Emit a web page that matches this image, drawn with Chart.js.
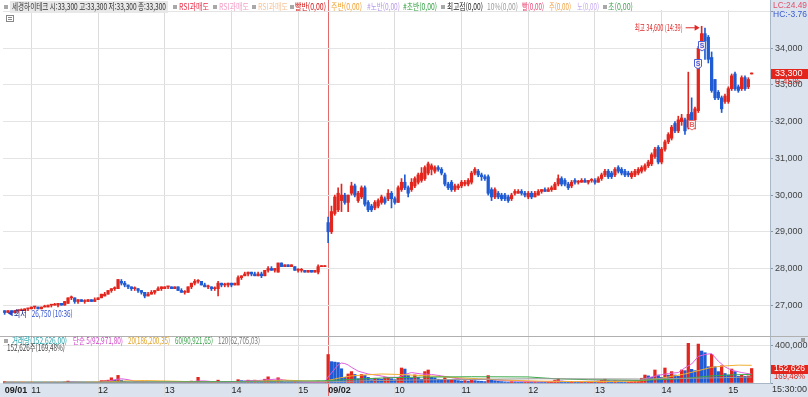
<!DOCTYPE html>
<html lang="ko">
<head>
<meta charset="utf-8">
<title>세경하이테크 3분봉</title>
<script src="https://cdn.jsdelivr.net/npm/chart.js@4.4.1/dist/chart.umd.min.js"></script>
<style>
  html, body { margin: 0; padding: 0; background: #fff; }
  #wrap { width: 808px; height: 397px; }
</style>
</head>
<body>
<div id="wrap"><canvas id="stockChart" width="808" height="397"></canvas></div>
<script>
// sessions (3-minute candles, 15:30 closing auction candle at the end of each day)
const sessionDates = ['09/01', '09/02'];
const sessionStart = ['10:36', '09:00'];
const sessionLastBar = ['15:21', '15:18'];
const blankSlots = 5;

const day1Open = [
  26850,26800,26850,26800,26850,26850,26850,26900,26900,26950,
  26950,26900,26950,26950,27000,27000,27000,27050,27000,27050,
  27200,27200,27100,27150,27100,27100,27150,27100,27150,27200,
  27250,27300,27400,27450,27450,27650,27600,27550,27500,27450,
  27450,27400,27350,27250,27300,27350,27400,27450,27450,27500,
  27500,27450,27500,27400,27350,27350,27500,27600,27650,27650,
  27550,27500,27500,27450,27450,27600,27550,27550,27600,27550,
  27550,27750,27800,27850,27900,27850,27800,27850,27800,27950,
  28000,27950,27900,28150,28050,28100,28050,28050,27950,27950,
  27950,27900,27950,27900,27900,28050,28050
];
const day1High = [
  26850,26850,26850,26850,26850,26900,26900,26900,26950,26950,
  26950,26950,27000,27000,27000,27050,27050,27050,27100,27200,
  27250,27200,27150,27150,27150,27150,27150,27200,27200,27300,
  27350,27400,27450,27500,27700,27700,27650,27550,27500,27500,
  27450,27400,27350,27350,27400,27400,27500,27500,27500,27500,
  27500,27500,27500,27450,27400,27500,27600,27700,27700,27650,
  27600,27550,27500,27500,27650,27600,27600,27600,27600,27600,
  27800,27800,27900,27900,27900,27900,27900,27900,27950,28050,
  28050,28000,28150,28150,28100,28100,28100,28050,28000,28000,
  27950,27950,27950,27950,28100,28050,28050
];
const day1Low = [
  26750,26800,26800,26800,26800,26850,26850,26850,26900,26900,
  26900,26900,26950,26950,26950,27000,26950,27000,27000,27050,
  27150,27050,27050,27100,27050,27100,27100,27100,27150,27200,
  27250,27300,27350,27400,27450,27550,27500,27450,27400,27400,
  27350,27300,27200,27250,27300,27300,27400,27400,27450,27450,
  27450,27450,27400,27350,27300,27350,27450,27550,27600,27550,
  27500,27450,27400,27400,27250,27500,27500,27500,27500,27550,
  27550,27700,27800,27800,27800,27800,27800,27750,27800,27900,
  27950,27900,27900,28050,28050,28050,28050,27950,27900,27900,
  27900,27900,27900,27900,27850,28050,28050
];
const day1Close = [
  26800,26850,26800,26850,26850,26850,26900,26900,26950,26950,
  26900,26950,26950,27000,27000,27000,27050,27000,27100,27200,
  27200,27100,27150,27100,27100,27150,27100,27150,27200,27300,
  27300,27400,27450,27450,27700,27600,27550,27500,27450,27450,
  27400,27350,27250,27300,27350,27400,27450,27500,27500,27500,
  27450,27500,27400,27350,27350,27500,27600,27650,27650,27550,
  27500,27500,27450,27450,27600,27550,27550,27600,27550,27600,
  27750,27800,27850,27900,27850,27800,27850,27800,27950,28000,
  27950,28000,28150,28050,28100,28050,28100,27950,27950,27950,
  27900,27950,27900,27950,28050,28050,28050
];
const day1Volume = [
  15000,5000,3000,4000,2000,3000,5000,3000,6000,4000,
  3000,2000,4000,3000,5000,3000,4000,3000,12000,20000,
  8000,6000,5000,4000,3000,4000,3000,5000,6000,25000,
  25000,30000,55000,30000,80000,30000,15000,12000,10000,8000,
  6000,8000,10000,7000,6000,5000,8000,6000,4000,3000,
  5000,3000,5000,4000,6000,10000,20000,15000,60000,15000,
  8000,5000,6000,10000,30000,8000,5000,4000,3000,5000,
  35000,25000,20000,30000,25000,30000,20000,15000,40000,65000,
  25000,20000,55000,20000,10000,8000,6000,10000,8000,6000,
  5000,4000,6000,5000,20000,3000,5000
];

const day2Open = [
  29250,29000,29500,29600,29850,30000,29800,30050,30250,29850,
  29950,30200,29800,29700,29650,29700,29800,29900,29900,30050,
  29900,29800,30150,30350,30200,30150,30250,30350,30400,30450,
  30600,30700,30650,30750,30700,30550,30300,30350,30150,30200,
  30250,30300,30300,30350,30600,30650,30550,30500,30500,30150,
  29950,30050,30000,30000,29950,29900,30050,30050,30100,30050,
  29950,30050,29950,30000,30100,30150,30100,30150,30150,30300,
  30450,30400,30300,30250,30400,30350,30350,30400,30350,30400,
  30400,30350,30450,30550,30650,30600,30550,30750,30700,30650,
  30600,30500,30550,30600,30650,30700,30800,30850,31050,31300,
  30900,31250,31450,31550,31950,31750,32000,32050,31850,32250,
  32050,32300,34000,34400,34300,33750,33150,32800,32650,32550,
  32550,32900,33300,32950,32900,33200,32950,33300
];
const day2High = [
  29400,29700,30000,30200,30300,30050,30000,30350,30300,30100,
  30250,30250,29850,29750,29850,29900,30000,29950,30150,30100,
  29950,30250,30450,30550,30250,30450,30500,30600,30750,30800,
  30900,30850,30800,30800,30750,30600,30350,30400,30300,30300,
  30400,30400,30450,30650,30750,30700,30600,30550,30550,30200,
  30200,30100,30050,30050,30000,30050,30150,30150,30150,30100,
  30100,30100,30100,30150,30150,30200,30200,30250,30350,30550,
  30500,30450,30350,30400,30450,30400,30450,30450,30400,30450,
  30450,30500,30600,30700,30700,30650,30750,30800,30750,30700,
  30650,30650,30700,30750,30800,30850,30950,31150,31300,31350,
  31300,31500,31700,31900,32000,32150,32200,32100,33350,32650,
  32400,34050,34600,34550,34350,33900,33150,32850,32700,32750,
  32950,33300,33350,33000,33250,33250,33200,33300
];
const day2Low = [
  28700,28950,29450,29550,29550,29750,29550,30000,29950,29800,
  29900,29700,29550,29550,29600,29650,29750,29750,29850,29650,
  29750,29800,30100,30150,29950,30100,30200,30300,30350,30400,
  30550,30550,30600,30650,30550,30250,30150,30100,30100,30150,
  30200,30250,30250,30300,30550,30500,30400,30400,30000,29850,
  29900,29900,29850,29850,29800,29850,30000,30050,30000,29950,
  29900,29900,29950,30000,30050,30100,30100,30100,30150,30250,
  30250,30250,30150,30200,30300,30300,30350,30350,30300,30350,
  30300,30350,30400,30500,30450,30450,30500,30600,30550,30500,
  30500,30450,30500,30550,30600,30650,30750,30800,31000,30850,
  30850,31200,31400,31500,31700,31700,31900,31650,31800,32000,
  31800,32250,33950,33700,33600,32800,32600,32600,32250,32500,
  32500,32850,32850,32800,32850,32850,32900,33300
];
const day2Close = [
  29000,29550,29950,30050,30000,29800,30000,30250,30000,30050,
  30200,29750,29600,29600,29800,29850,29950,29800,30050,29900,
  29800,30200,30350,30200,30050,30350,30450,30550,30600,30750,
  30850,30800,30750,30700,30600,30300,30200,30150,30250,30250,
  30350,30350,30400,30600,30700,30550,30500,30450,30050,29950,
  30150,29950,29900,29900,29850,30000,30100,30100,30050,30000,
  30050,29950,30050,30100,30150,30100,30150,30200,30300,30450,
  30300,30300,30200,30350,30350,30350,30400,30350,30400,30400,
  30350,30450,30550,30650,30500,30500,30700,30650,30600,30550,
  30550,30600,30650,30700,30750,30800,30900,31100,31250,30900,
  31250,31450,31650,31850,31750,32050,32100,31750,32200,32050,
  32350,34000,34400,34200,33700,32850,32650,32650,32350,32700,
  32900,33250,32900,32850,33200,32900,33150,33300
];
const day2Volume = [
  300000,225000,220000,215000,150000,60000,95000,120000,90000,45000,
  90000,80000,60000,35000,50000,45000,40000,55000,60000,45000,
  35000,50000,158000,147000,80000,50000,85000,60000,40000,120000,
  137000,60000,55000,40000,35000,55000,30000,35000,30000,25000,
  20000,25000,20000,30000,25000,20000,18000,15000,78000,30000,
  25000,20000,15000,12000,10000,15000,12000,10000,8000,10000,
  12000,10000,15000,12000,10000,8000,10000,15000,30000,45000,
  20000,15000,12000,15000,10000,8000,10000,8000,10000,12000,
  10000,20000,30000,40000,25000,20000,25000,15000,12000,10000,
  12000,15000,18000,20000,50000,84000,75000,60000,137000,84000,
  60000,158000,84000,120000,84000,70000,137000,130000,418000,144000,
  130000,410000,337000,319000,172000,302000,172000,120000,182000,100000,
  84000,147000,120000,70000,82000,70000,75000,152626
];

// volume moving averages: [candle index, value]
const ma5Points = [
  [0,8000],[10,4000],[17,4000],[20,11000],[24,6000],[28,5000],[31,20000],[33,35000],[35,45000],[37,35000],
  [40,12000],[44,8000],[50,5000],[55,8000],[58,22000],[60,22000],[63,12000],[66,12000],[69,5000],[72,22000],
  [76,26000],[79,35000],[82,42000],[85,25000],[89,9000],[93,6000],[96,8000],
  [97,65000],[98,105000],[99,150000],[100,190000],[101,210000],[102,205000],[103,190000],[104,165000],[106,125000],
  [109,95000],[112,80000],[115,60000],[118,60000],[120,90000],[122,110000],[125,95000],[128,90000],[131,75000],
  [135,50000],[140,35000],[145,40000],[150,25000],[160,12000],[166,20000],[170,15000],[180,20000],[185,25000],
  [190,25000],[193,55000],[196,80000],[199,100000],[202,110000],[204,160000],[206,200000],[208,280000],
  [210,300000],[212,310000],[214,230000],[216,170000],[218,135000],[221,110000],[224,92972]
];
const ma20Points = [
  [0,8000],[20,6000],[30,10000],[36,22000],[42,26000],[50,20000],[58,12000],[64,15000],[70,13000],[78,22000],
  [84,30000],[92,20000],[96,15000],[97,27000],[100,50000],[104,75000],[108,85000],[113,95000],[118,90000],
  [124,80000],[130,70000],[136,55000],[142,45000],[150,30000],[160,20000],[170,15000],[180,15000],[190,20000],
  [196,45000],[200,70000],[204,95000],[208,130000],[212,165000],[216,180000],[220,188000],[224,186200]
];
const ma60Points = [
  [0,7000],[30,8000],[60,14000],[90,20000],[97,25000],[105,40000],[115,55000],[125,62000],[140,66000],
  [157,64000],[165,45000],[175,35000],[190,28000],[200,40000],[206,55000],[212,75000],[218,85000],[224,90922]
];
const ma120Points = [
  [0,5000],[60,8000],[96,12000],[110,25000],[130,35000],[160,45000],[190,42000],[210,52000],[224,62705]
];

const priceTicks = [27000, 28000, 29000, 30000, 31000, 32000, 33000, 34000, 35000];
const volumeTicks = [0, 200000, 400000];
const highTime = '14:39';
const lowTime = '10:36';
const dayChange = '0.45%';
const volumeRatio = '169,48%';
const indicatorReadout = ['LC:24.49', 'HC:-3.76'];
const volumeLegend = ['거래량(152,626,00)', '단순 5(92,971,80)', '20(186,200,35)', '60(90,921,65)', '120(62,705,03)'];
// trade signal badges
const signalIdx = [206, 208, 209];
const signalPrice = [31900, 33570, 34060];
const signalType = ['B', 'S', 'S'];

// ---- build series ----
function sessionTimes(date, start, last) {
  const out = [];
  let [h, m] = start.split(':').map(Number);
  const [eh, em] = last.split(':').map(Number);
  while (h * 60 + m <= eh * 60 + em) {
    out.push(date + ' ' + String(h).padStart(2, '0') + ':' + String(m).padStart(2, '0'));
    m += 3;
    if (m >= 60) { m -= 60; h++; }
  }
  out.push(date + ' 15:30');
  return out;
}

const opens = day1Open.concat(day2Open);
const highs = day1High.concat(day2High);
const lows = day1Low.concat(day2Low);
const closes = day1Close.concat(day2Close);
const volumes = day1Volume.concat(day2Volume);

let labels = [];
sessionDates.forEach((d, i) => { labels = labels.concat(sessionTimes(d, sessionStart[i], sessionLastBar[i])); });
for (let i = 0; i < blankSlots; i++) labels.push(' '.repeat(i + 1));
const n = closes.length;

const RED = '#e2261e';
const BLUE = '#1f5bd3';
const FONT = '"Noto Sans CJK KR", "Noto Sans", sans-serif';
const NUM_FONT = '"Liberation Sans", "DejaVu Sans", sans-serif';

const candleColors = closes.map((c, i) => c >= opens[i] ? RED : BLUE);
const volumeColors = volumes.map((v, i) => (i === 0 || v >= volumes[i - 1]) ? RED : BLUE);
const wickData = labels.map((_, i) => i < n ? [lows[i], highs[i]] : null);
const bodyData = labels.map((_, i) => i < n ? [opens[i], closes[i]] : null);
const volData = labels.map((_, i) => i < n ? volumes[i] : null);

function pointsToSeries(points) {
  const arr = labels.map(() => null);
  points.forEach(([i, v]) => { arr[i] = v; });
  return arr;
}

const tickText = labels.map((lab, i) => {
  if (!lab.trim()) return '';
  const [d, t] = lab.split(' ');
  if (i === 0 || labels[i - 1].split(' ')[0] !== d) return d;
  if (t.endsWith(':00')) return String(Number(t.slice(0, 2)));
  return '';
});

const fmt = v => v.toLocaleString('en-US');

function drawText(ctx, str, x, y, opt) {
  ctx.font = (opt.weight || 'normal') + ' ' + (opt.size || 9) + 'px ' + (opt.family || FONT);
  ctx.fillStyle = opt.color || '#333';
  ctx.textAlign = opt.align || 'left';
  ctx.textBaseline = 'middle';
  if (opt.maxWidth) ctx.fillText(str, x, y, opt.maxWidth);
  else ctx.fillText(str, x, y);
}

function square(ctx, x, y, color) {
  ctx.fillStyle = color || '#a8a8a8';
  ctx.fillRect(x, y - 2, 4, 4);
}

const deco = {
  id: 'deco',
  beforeDraw(chart) {
    const { ctx, chartArea: a, width, height } = chart;
    ctx.save();
    ctx.fillStyle = '#fff';
    ctx.fillRect(0, 0, width, height);
    ctx.fillStyle = '#dae3ee';
    ctx.fillRect(a.right, 0, width - a.right, height);
    ctx.fillRect(0, a.bottom, width, height - a.bottom);
    ctx.restore();
  },
  beforeDatasetsDraw(chart) {
    // legend strip on top: gridlines start below it, day separator runs through
    const { ctx, chartArea: a, scales } = chart;
    ctx.save();
    ctx.fillStyle = '#fff';
    ctx.fillRect(a.left, 0, a.width, 10);
    const sep = tickText.findIndex((t, i) => i > 0 && t.includes('/'));
    const sx = Math.round(scales.x.getPixelForValue(sep)) + 0.5;
    ctx.strokeStyle = '#e26a6a';
    ctx.beginPath(); ctx.moveTo(sx, 0); ctx.lineTo(sx, 10); ctx.stroke();
    ctx.restore();
  },
  afterDraw(chart) {
    const { ctx, chartArea: a, width, scales } = chart;
    const xs = scales.x, ys = scales.y, yv = scales.yv;
    ctx.save();

    // panel separator
    const sepY = Math.round(ys.bottom) + 0.5;
    ctx.strokeStyle = '#b0b0b0';
    ctx.lineWidth = 1;
    ctx.beginPath(); ctx.moveTo(0, sepY); ctx.lineTo(width, sepY); ctx.stroke();

    // top legend
    const last = n - 1;
    const ohlc = '세경하이테크 시:' + fmt(opens[last]) + ' 고:' + fmt(highs[last]) + ' 저:' + fmt(lows[last]) + ' 종:' + fmt(closes[last]);
    ctx.fillStyle = '#e8e8e8';
    ctx.fillRect(10, 1, 158, 12);
    square(ctx, 4, 7);
    drawText(ctx, ohlc, 12, 7, { color: '#333', size: 9, maxWidth: 154 });
    const topItems = [
      { sq: 173, text: 'RSI과매도', x: 179, w: 30, color: '#e8304a' },
      { sq: 213, text: 'RSI과매도', x: 219, w: 30, color: '#f3a0c8' },
      { sq: 252, text: 'RSI과매도', x: 258, w: 30, color: '#f5c49a' },
      { sq: 290, text: '빨반(0,00)', x: 295, w: 31, color: '#d01010' },
      { text: '주반(0,00)', x: 331, w: 31, color: '#f0a030' },
      { text: '#노반(0,00)', x: 367, w: 33, color: '#b898e8' },
      { text: '#초반(0,00)', x: 403, w: 34, color: '#30a040' },
      { sq: 441, text: '최고점(0,00)', x: 447, w: 36, color: '#222' },
      { text: '10%(0,00)', x: 487, w: 31, color: '#9a9a9a' },
      { text: '빨(0,00)', x: 522, w: 22, color: '#e84070' },
      { text: '주(0,00)', x: 549, w: 22, color: '#f0a040' },
      { text: '노(0,00)', x: 577, w: 22, color: '#c4a8f0' },
      { sq: 603, text: '초(0,00)', x: 608, w: 25, color: '#40a050' }
    ];
    topItems.forEach(it => {
      if (it.sq) square(ctx, it.sq, 7);
      drawText(ctx, it.text, it.x, 7, { color: it.color, size: 9, maxWidth: it.w });
    });
    // small tool icon
    ctx.strokeStyle = '#888';
    ctx.strokeRect(6.5, 15.5, 7, 6);
    ctx.fillStyle = '#888';
    ctx.fillRect(8, 17, 4, 1); ctx.fillRect(8, 19, 4, 1);

    // volume legend
    const vy = yv.top + 5;
    square(ctx, 4, vy);
    const volItems = [
      { x: 12, w: 55, color: '#1e9ea6' },
      { x: 73, w: 50, color: '#d040c8' },
      { x: 128, w: 42, color: '#e0a020' },
      { x: 175, w: 38, color: '#38a048' },
      { x: 218, w: 42, color: '#777' }
    ];
    volItems.forEach((it, i) => drawText(ctx, volumeLegend[i], it.x, vy, { color: it.color, size: 9, maxWidth: it.w }));
    drawText(ctx, fmt(volumes[last]) + '주(' + volumeRatio + ')', 7, vy + 7, { color: '#444', size: 9, maxWidth: 58 });

    // right axis extras
    const rx = a.right;
    drawText(ctx, indicatorReadout[0], rx + 3, 6, { color: '#e0506a', size: 9, family: NUM_FONT, maxWidth: 34 });
    drawText(ctx, indicatorReadout[1], rx + 3, 15, { color: '#3a5bd0', size: 9, family: NUM_FONT, maxWidth: 34 });
    const py = Math.round(ys.getPixelForValue(closes[last]));
    ctx.fillStyle = RED;
    ctx.fillRect(rx + 1, py - 5, width - rx - 1, 10);
    drawText(ctx, fmt(closes[last]), rx + 5, py, { color: '#fff', size: 9, family: NUM_FONT });
    drawText(ctx, dayChange, rx + 5, py + 8, { color: RED, size: 9, family: NUM_FONT });
    const vpy = Math.round(yv.getPixelForValue(volumes[last]));
    ctx.fillStyle = RED;
    ctx.fillRect(rx + 1, vpy - 4, width - rx - 1, 9);
    drawText(ctx, fmt(volumes[last]), rx + 4, vpy, { color: '#fff', size: 9, family: NUM_FONT, maxWidth: 31 });
    drawText(ctx, volumeRatio, rx + 4, vpy + 8, { color: RED, size: 9, family: NUM_FONT, maxWidth: 31 });
    ctx.fillStyle = '#9a9a9a';
    ctx.fillRect(width - 7, yv.top + 2, 4, 4);
    drawText(ctx, '15:30:00', rx + 2, a.bottom + 7, { color: '#333', size: 9, family: NUM_FONT, maxWidth: 35 });

    // high / low marks
    const hiVal = Math.max(...highs);
    const hiIdx = highs.indexOf(hiVal);
    const hx = xs.getPixelForValue(hiIdx);
    const hy = ys.getPixelForValue(hiVal) + 1;
    drawText(ctx, '최고 ' + fmt(hiVal) + ' (' + highTime + ')', hx - 19, hy, { color: '#e02828', size: 9, align: 'right', maxWidth: 48 });
    ctx.strokeStyle = '#e02828';
    ctx.beginPath(); ctx.moveTo(hx - 16, hy + 0.5); ctx.lineTo(hx - 5, hy + 0.5); ctx.stroke();
    ctx.fillStyle = '#e02828';
    ctx.beginPath(); ctx.moveTo(hx - 2, hy + 0.5); ctx.lineTo(hx - 7, hy - 2.5); ctx.lineTo(hx - 7, hy + 3.5); ctx.closePath(); ctx.fill();

    const loVal = Math.min(...lows);
    const loIdx = lows.indexOf(loVal);
    const lx = xs.getPixelForValue(loIdx);
    const ly = ys.getPixelForValue(loVal) - 1;
    ctx.fillStyle = '#2a44c8';
    ctx.beginPath(); ctx.moveTo(lx + 3, ly); ctx.lineTo(lx + 8, ly - 3); ctx.lineTo(lx + 8, ly + 3); ctx.closePath(); ctx.fill();
    drawText(ctx, '최저', lx + 9, ly, { color: '#1a2a8a', size: 9, maxWidth: 13 });
    drawText(ctx, fmt(loVal) + ' (' + lowTime + ')', lx + 27, ly, { color: '#2f4fd0', size: 9, maxWidth: 41 });

    // trade signal badges
    signalIdx.forEach((idx, i) => {
      const bx = Math.round(xs.getPixelForValue(idx));
      const by = Math.round(ys.getPixelForValue(signalPrice[i]));
      const col = signalType[i] === 'S' ? '#4a5fd8' : '#e46a6a';
      ctx.fillStyle = 'rgba(255,255,255,0.85)';
      ctx.strokeStyle = col;
      ctx.beginPath();
      ctx.moveTo(bx - 3.5, by - 4.5); ctx.lineTo(bx + 3.5, by - 4.5); ctx.lineTo(bx + 3.5, by + 2.5);
      ctx.lineTo(bx, by + 5); ctx.lineTo(bx - 3.5, by + 2.5); ctx.closePath();
      ctx.fill(); ctx.stroke();
      drawText(ctx, signalType[i], bx, by, { color: col, size: 7, align: 'center', family: NUM_FONT, weight: 'bold' });
    });

    ctx.restore();
  }
};

const maLine = (label, points, color) => ({
  type: 'line',
  label,
  data: pointsToSeries(points),
  yAxisID: 'yv',
  borderColor: color,
  borderWidth: 1,
  pointRadius: 0,
  spanGaps: true,
  tension: 0,
  order: 0
});

new Chart(document.getElementById('stockChart'), {
  type: 'bar',
  data: {
    labels: labels,
    datasets: [
      { label: 'wick', data: wickData, yAxisID: 'y', backgroundColor: candleColors, barThickness: 1, minBarLength: 1, grouped: false, order: 3 },
      { label: 'body', data: bodyData, yAxisID: 'y', backgroundColor: candleColors, barThickness: 2.6, minBarLength: 1, grouped: false, order: 2 },
      { label: 'volume', data: volData, yAxisID: 'yv', backgroundColor: volumeColors, barThickness: 2.6, minBarLength: 1, grouped: false, order: 2 },
      maLine('120', ma120Points, '#9a9a9a'),
      maLine('60', ma60Points, '#3aa84a'),
      maLine('20', ma20Points, '#f0b030'),
      maLine('5', ma5Points, '#e060dc')
    ]
  },
  options: {
    responsive: false,
    animation: false,
    devicePixelRatio: 1,
    layout: { padding: { left: 3, top: 0, right: 0, bottom: 0 } },
    plugins: { legend: { display: false }, tooltip: { enabled: false } },
    scales: {
      x: {
        offset: true,
        grid: {
          offset: false,
          tickLength: 13,
          color: c => {
            const t = tickText[c.index];
            if (!t || c.index === 0) return 'rgba(0,0,0,0)';
            return t.includes('/') ? '#e26a6a' : '#dcdcdc';
          }
        },
        border: { color: '#a9b6c6' },
        ticks: {
          autoSkip: false,
          maxRotation: 0,
          align: 'start',
          padding: -11,
          color: '#222',
          font: c => ({ size: 9, family: NUM_FONT, weight: (tickText[c.index] || '').includes('/') ? 'bold' : 'normal' }),
          callback: (v, i) => tickText[i]
        },
        afterFit: s => { s.height = 14; s.paddingLeft = 0; s.paddingRight = 0; }
      },
      y: {
        position: 'right',
        stack: 'panels',
        stackWeight: 336,
        min: 26160,
        max: 35316,
        afterBuildTicks: s => { s.ticks = priceTicks.map(v => ({ value: v })); },
        grid: { color: '#e4e4e4', tickLength: 3, tickColor: '#8a96a8' },
        border: { color: '#a9b6c6' },
        ticks: {
          padding: 2,
          color: '#444',
          font: { size: 9, family: NUM_FONT },
          callback: v => v === 35000 ? '' : fmt(v)
        },
        afterFit: s => { s.width = 38; s.paddingTop = 0; s.paddingBottom = 0; }
      },
      yv: {
        position: 'right',
        stack: 'panels',
        stackWeight: 47,
        min: 0,
        max: 495000,
        afterBuildTicks: s => { s.ticks = volumeTicks.map(v => ({ value: v })); },
        grid: { color: '#e4e4e4', tickLength: 3, tickColor: '#8a96a8' },
        border: { color: '#a9b6c6' },
        ticks: {
          padding: 2,
          color: '#444',
          font: { size: 9, family: NUM_FONT },
          callback: v => v === 0 ? '' : fmt(v)
        },
        afterFit: s => { s.width = 38; s.paddingTop = 0; s.paddingBottom = 0; }
      }
    }
  },
  plugins: [deco]
});
</script>
</body>
</html>
